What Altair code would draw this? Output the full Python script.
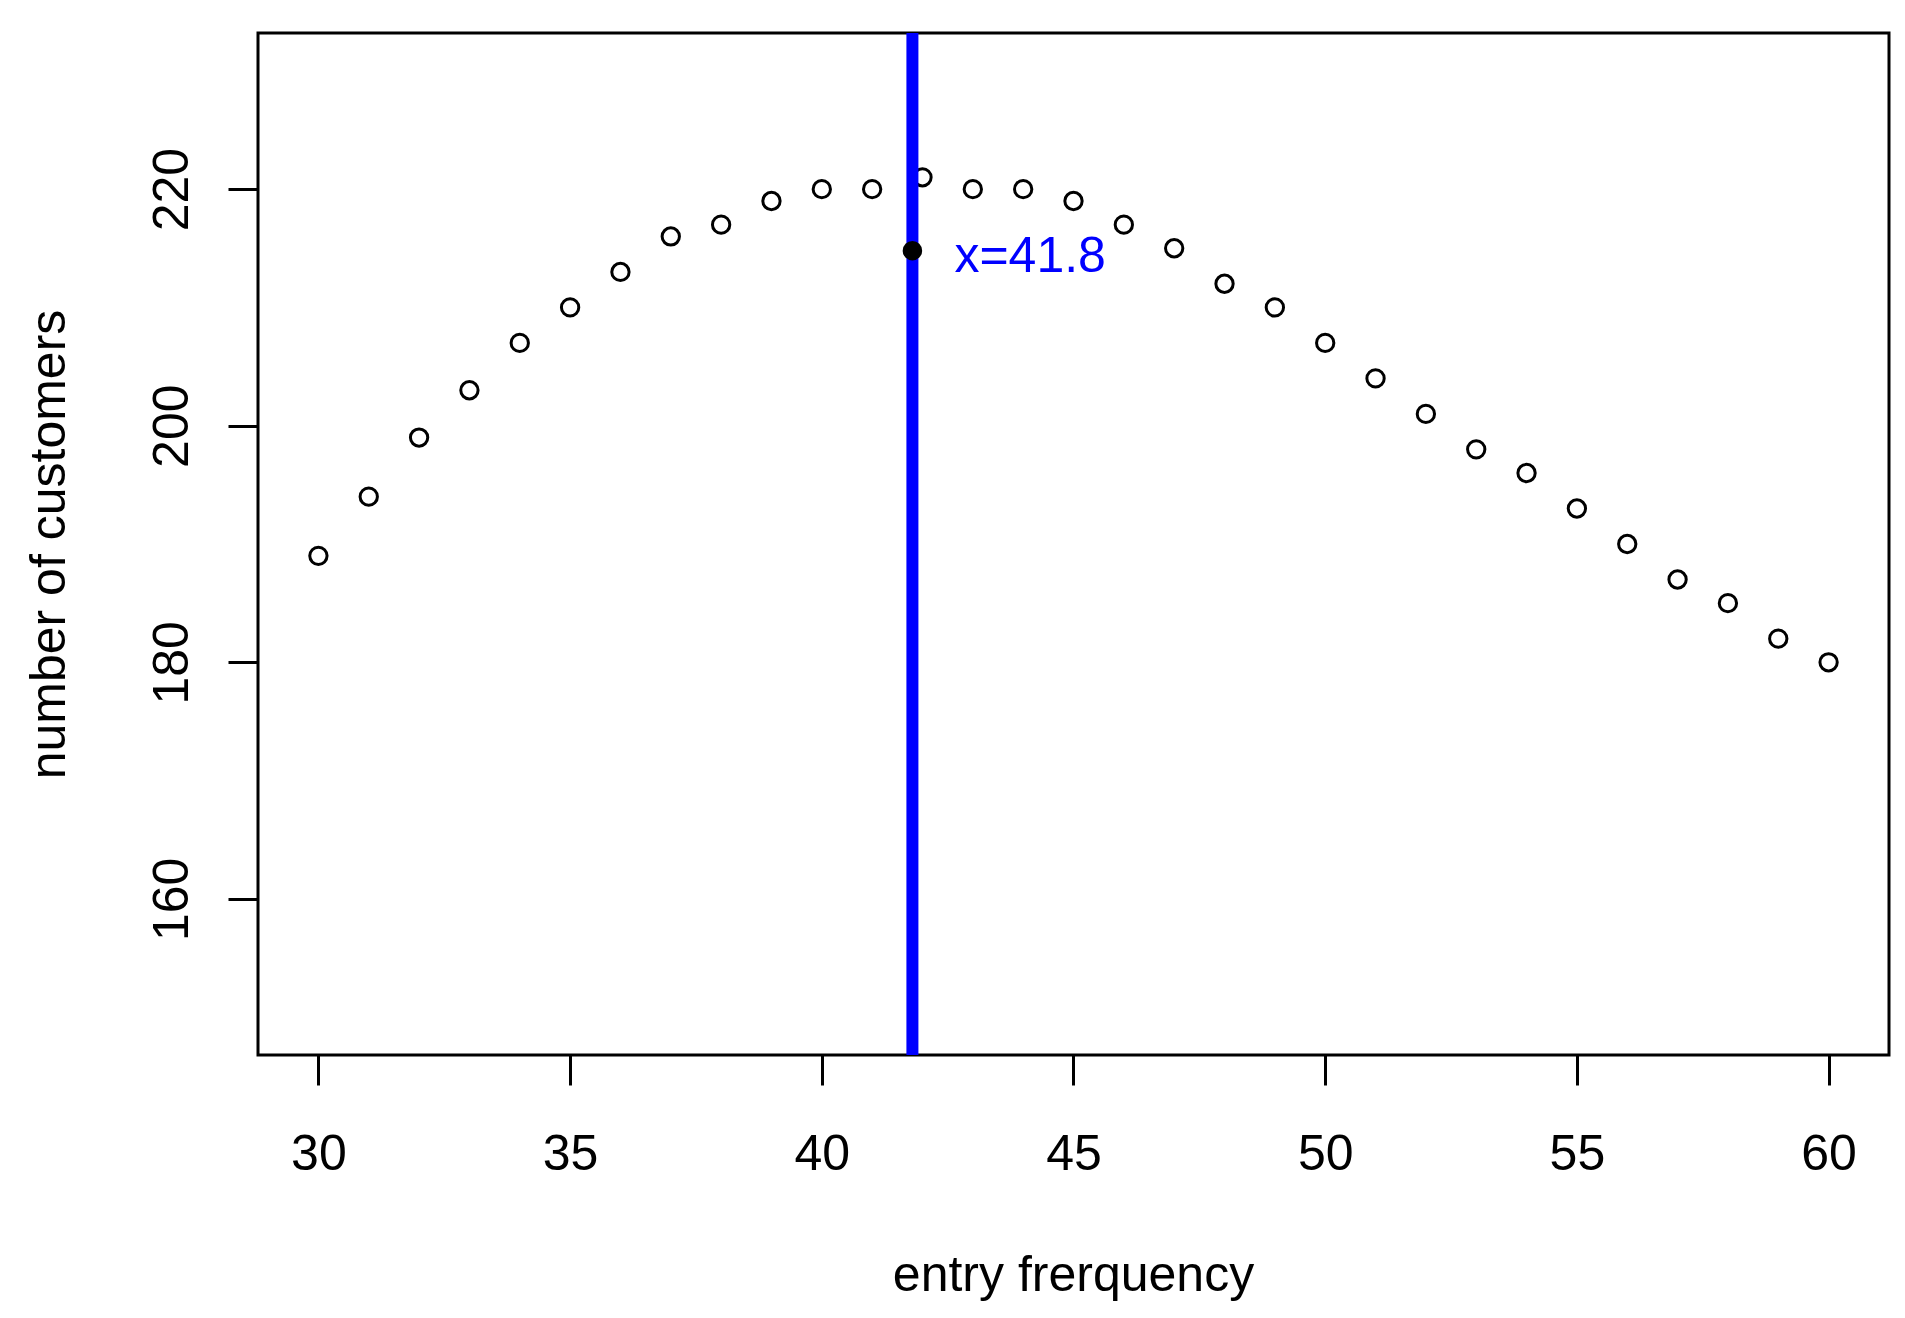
import altair as alt
import pandas as pd

# entry frequency vs number of customers
freq = [30, 31, 32, 33, 34, 35, 36, 37, 38, 39, 40, 41, 42, 43, 44, 45,
        46, 47, 48, 49, 50, 51, 52, 53, 54, 55, 56, 57, 58, 59, 60]
customers = [189, 194, 199, 203, 207, 210, 213, 216, 217, 219, 220, 220, 221, 220, 220, 219,
             217, 215, 212, 210, 207, 204, 201, 198, 196, 193, 190, 187, 185, 182, 180]

best_x = [41.8]
best_y = [214.8]
best_label = ["x=41.8"]

x_ticks = [30, 35, 40, 45, 50, 55, 60]
y_ticks = [160, 180, 200, 220]

FONT = "Liberation Sans"

df = pd.DataFrame({"freq": freq, "customers": customers})
best = pd.DataFrame({"x": best_x, "y": best_y, "label": best_label})

x_scale = alt.Scale(domain=[28.8, 61.2], nice=False, zero=False)
y_scale = alt.Scale(domain=[146.8, 233.2], nice=False, zero=False)

x_axis = alt.Axis(
    values=x_ticks, grid=False, domain=False,
    tickSize=30, tickWidth=3, tickColor="black",
    labelFont=FONT, labelFontSize=50, labelColor="black",
    labelBaseline="alphabetic", labelPadding=84, labelFlush=False,
    title="entry frerquency", titleFont=FONT, titleFontSize=50,
    titleFontWeight="normal", titleColor="black",
    titleX=815, titleY=235, titleAlign="center", titleBaseline="alphabetic",
)
y_axis = alt.Axis(
    values=y_ticks, grid=False, domain=False,
    tickSize=30, tickWidth=3, tickColor="black",
    labelFont=FONT, labelFontSize=50, labelColor="black",
    labelAngle=270, labelAlign="center", labelBaseline="alphabetic",
    labelPadding=41, labelFlush=False,
    title="number of customers", titleFont=FONT, titleFontSize=50,
    titleFontWeight="normal", titleColor="black", titleAngle=270,
    titleX=-194, titleY=511, titleAlign="center", titleBaseline="alphabetic",
)

points = alt.Chart(df).mark_point(
    shape="circle", filled=False, size=300, strokeWidth=3,
    color="black", opacity=1
).encode(
    x=alt.X("freq:Q", scale=x_scale, axis=x_axis),
    y=alt.Y("customers:Q", scale=y_scale, axis=y_axis),
)

vline = alt.Chart(best).mark_rule(color="#0000ff", strokeWidth=12).encode(
    x=alt.X("x:Q", scale=x_scale)
)

dot = alt.Chart(best).mark_point(
    shape="circle", filled=True, size=380, color="black", opacity=1
).encode(
    x=alt.X("x:Q", scale=x_scale),
    y=alt.Y("y:Q", scale=y_scale),
)

label = alt.Chart(best).mark_text(
    align="left", baseline="alphabetic", dx=42, dy=21,
    font=FONT, fontSize=50, color="#0000ff"
).encode(
    x=alt.X("x:Q", scale=x_scale),
    y=alt.Y("y:Q", scale=y_scale),
    text="label:N",
)

chart = alt.layer(points, vline, dot, label).properties(
    width=1631, height=1022,
    background="white",
    autosize=alt.AutoSizeParams(type="none"),
    padding={"left": 250, "top": 25, "right": 8, "bottom": 255},
).configure_view(
    stroke="black", strokeWidth=3
)

chart.save("out.html", embed_options={"renderer": "svg", "actions": False})
